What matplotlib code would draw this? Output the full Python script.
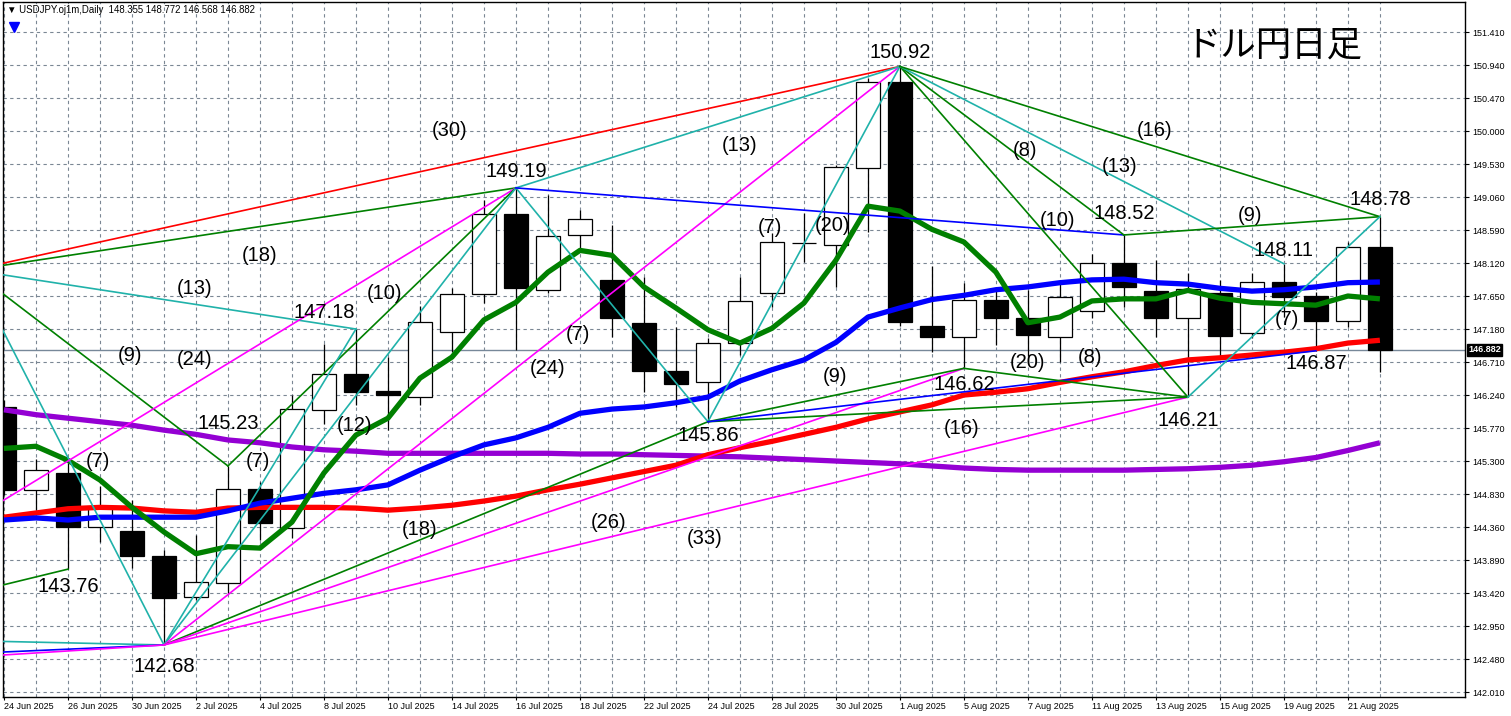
import matplotlib
matplotlib.use("Agg")
import matplotlib.pyplot as plt
import numpy as np

plt.rcParams['font.family'] = ['Liberation Sans', 'DejaVu Sans']

# daily bars, 24 Jun 2025 .. 22 Aug 2025
dates = ["24 Jun 2025", "25 Jun 2025", "26 Jun 2025", "27 Jun 2025", "30 Jun 2025",
         "1 Jul 2025", "2 Jul 2025", "3 Jul 2025", "4 Jul 2025", "7 Jul 2025",
         "8 Jul 2025", "9 Jul 2025", "10 Jul 2025", "11 Jul 2025", "14 Jul 2025",
         "15 Jul 2025", "16 Jul 2025", "17 Jul 2025", "18 Jul 2025", "21 Jul 2025",
         "22 Jul 2025", "23 Jul 2025", "24 Jul 2025", "25 Jul 2025", "28 Jul 2025",
         "29 Jul 2025", "30 Jul 2025", "31 Jul 2025", "1 Aug 2025", "4 Aug 2025",
         "5 Aug 2025", "6 Aug 2025", "7 Aug 2025", "8 Aug 2025", "11 Aug 2025",
         "12 Aug 2025", "13 Aug 2025", "14 Aug 2025", "15 Aug 2025", "18 Aug 2025",
         "19 Aug 2025", "20 Aug 2025", "21 Aug 2025", "22 Aug 2025"]

opens = [146.07, 144.89, 145.13, 144.36, 144.30, 143.95, 143.36, 143.56, 144.90, 144.35,
         146.03, 146.54, 146.30, 146.21, 147.14, 147.68, 148.82, 147.73, 148.52, 147.88,
         147.27, 146.58, 146.43, 146.98, 147.69, 148.41, 148.38, 149.47, 150.70, 147.22,
         147.07, 147.59, 147.34, 147.07, 147.44, 148.12, 147.72, 147.34, 147.70, 147.12,
         147.85, 147.65, 147.29, 148.355]
highs = [146.17, 145.33, 145.27, 144.94, 144.74, 144.03, 144.25, 145.23, 145.00, 146.24,
         146.97, 147.18, 146.78, 147.51, 147.76, 149.02, 149.19, 149.09, 148.87, 148.66,
         147.92, 147.21, 147.05, 147.92, 148.55, 148.83, 149.52, 150.76, 150.92, 148.08,
         147.83, 147.76, 147.74, 147.88, 148.25, 148.52, 148.16, 147.98, 147.88, 147.98,
         148.11, 147.71, 148.42, 148.772]
lows = [144.82, 144.60, 143.76, 144.15, 143.78, 142.68, 143.32, 143.40, 144.17, 144.20,
        145.83, 146.10, 145.74, 146.10, 146.85, 147.55, 146.88, 147.69, 148.33, 147.07,
        146.28, 146.07, 145.86, 146.81, 147.49, 148.13, 147.78, 148.56, 147.23, 146.85,
        146.62, 146.95, 146.80, 146.71, 147.34, 147.49, 147.07, 146.21, 146.78, 147.05,
        147.35, 146.87, 147.21, 146.568]
closes = [144.89, 145.17, 144.36, 144.64, 143.95, 143.35, 143.58, 144.90, 144.42, 146.04,
          146.54, 146.28, 146.24, 147.28, 147.68, 148.82, 147.76, 148.50, 148.75, 147.34,
          146.58, 146.40, 146.98, 147.58, 148.42, 148.40, 149.49, 150.70, 147.28, 147.07,
          147.59, 147.34, 147.10, 147.64, 148.12, 147.78, 147.34, 147.75, 147.08, 147.85,
          147.64, 147.29, 148.35, 146.882]

# moving averages
ma_green = [145.48, 145.51, 145.31, 145.03, 144.64, 144.29, 143.98, 144.08, 144.06, 144.43,
            145.13, 145.67, 145.91, 146.48, 146.78, 147.31, 147.56, 147.99, 148.30, 148.23,
            147.78, 147.48, 147.17, 146.98, 147.19, 147.55, 148.16, 148.93, 148.86, 148.60,
            148.42, 147.99, 147.27, 147.35, 147.58, 147.61, 147.61, 147.73, 147.62, 147.56,
            147.54, 147.52, 147.65, 147.61]
ma_blue = [144.46, 144.49, 144.46, 144.50, 144.50, 144.50, 144.50, 144.59, 144.70, 144.77,
           144.84, 144.89, 144.96, 145.17, 145.36, 145.53, 145.63, 145.78, 145.98, 146.04,
           146.07, 146.13, 146.21, 146.44, 146.60, 146.74, 146.99, 147.35, 147.48, 147.60,
           147.66, 147.74, 147.78, 147.84, 147.88, 147.89, 147.84, 147.82, 147.76, 147.72,
           147.74, 147.78, 147.84, 147.85]
ma_red = [144.50, 144.56, 144.62, 144.64, 144.63, 144.59, 144.57, 144.63, 144.64, 144.64,
          144.64, 144.63, 144.60, 144.63, 144.67, 144.73, 144.80, 144.89, 144.97, 145.06,
          145.15, 145.24, 145.39, 145.49, 145.58, 145.68, 145.78, 145.90, 146.00, 146.10,
          146.24, 146.28, 146.33, 146.42, 146.50, 146.57, 146.66, 146.74, 146.77, 146.81,
          146.85, 146.90, 146.98, 147.02]
ma_purple = [146.03, 145.96, 145.91, 145.86, 145.81, 145.74, 145.68, 145.60, 145.56, 145.50,
             145.46, 145.44, 145.41, 145.41, 145.41, 145.41, 145.41, 145.41, 145.40, 145.40,
             145.39, 145.38, 145.37, 145.36, 145.34, 145.32, 145.30, 145.28, 145.26, 145.23,
             145.20, 145.18, 145.17, 145.17, 145.17, 145.17, 145.18, 145.19, 145.21, 145.24,
             145.29, 145.35, 145.45, 145.56]

# swing points (bar index, price); the first ones lie left of the window
pivot_names = ['P0', 'Q', 'R1', 'R2', 'R3', 'A', 'B', 'C', 'D', 'E', 'F', 'G', 'H',
               'I', 'J', 'K', 'L', 'M']
pivot_bars = [-1, -7, -10, -25, -20, 5, 2, 7, 11, 16, 22, 28, 30, 35, 37, 40, 41, 43]
pivot_prices = [148.02, 142.80, 142.43, 142.08, 141.97, 142.68, 143.76, 145.23, 147.18,
                149.19, 145.86, 150.92, 146.62, 148.52, 146.21, 148.11, 146.87, 148.78]

trend_lines = [('P0', 'G', 'red'), ('P0', 'E', 'green'), ('P0', 'D', 'cyan'),
               ('P0', 'C', 'green'), ('P0', 'A', 'cyan'), ('Q', 'E', 'magenta'),
               ('Q', 'A', 'cyan'), ('R1', 'B', 'green'), ('R2', 'A', 'blue'),
               ('R3', 'A', 'magenta'), ('C', 'E', 'green'), ('A', 'D', 'cyan'),
               ('A', 'E', 'cyan'), ('A', 'G', 'magenta'), ('A', 'F', 'green'),
               ('A', 'H', 'magenta'), ('A', 'J', 'magenta'), ('E', 'G', 'cyan'),
               ('E', 'F', 'cyan'), ('E', 'I', 'blue'), ('F', 'G', 'cyan'),
               ('F', 'H', 'green'), ('F', 'J', 'green'), ('F', 'L', 'blue'),
               ('G', 'I', 'green'), ('G', 'J', 'green'), ('G', 'K', 'cyan'),
               ('G', 'M', 'green'), ('H', 'J', 'green'), ('I', 'M', 'green'),
               ('J', 'M', 'cyan')]

# bar counts written on the chart: text, bar, price
count_labels = [('(30)', 13.94, 150.01), ('(18)', 8.0, 148.23), ('(13)', 5.97, 147.76),
                ('(9)', 3.94, 146.81), ('(24)', 5.97, 146.74), ('(7)', 2.94, 145.29),
                ('(7)', 7.94, 145.29), ('(12)', 10.97, 145.81), ('(10)', 11.9, 147.69),
                ('(18)', 13.0, 144.32), ('(26)', 18.88, 144.42), ('(33)', 21.9, 144.20),
                ('(24)', 17.0, 146.62), ('(7)', 17.94, 147.10), ('(13)', 23.0, 149.80),
                ('(7)', 23.94, 148.63), ('(20)', 25.9, 148.66), ('(9)', 25.97, 146.51),
                ('(16)', 29.94, 145.77), ('(8)', 31.9, 149.73), ('(10)', 32.94, 148.73),
                ('(20)', 32.0, 146.71), ('(8)', 33.94, 146.77), ('(16)', 35.97, 150.01),
                ('(13)', 34.88, 149.50), ('(9)', 38.94, 148.80), ('(7)', 40.1, 147.31)]

# price labels at the swing points, with pixel offsets
price_label_pivots = ['G', 'E', 'D', 'C', 'B', 'A', 'F', 'H', 'I', 'J', 'K', 'L', 'M']
price_label_offsets = [(0, 14), (0, 16), (-32, 17), (0, 42), (0, -17), (0, -22), (0, -14),
                       (0, -16), (0, 21), (0, -23), (0, 13), (0, -13), (0, 17)]

last_price = 146.882
header = "\u25bc USDJPY.oj1m,Daily  148.355 148.772 146.568 146.882"
title = "ドル円日足"

colors = {'red': '#ff0000', 'green': '#008000', 'cyan': '#20b2aa',
          'magenta': '#ff00ff', 'blue': '#0000ff'}

fig = plt.figure(figsize=(15.11, 7.16), dpi=100)
ax = fig.add_axes([3 / 1511, 19 / 716, 1462 / 1511, 695 / 716])
ax.set_xlim(-0.03, 45.66)
ax.set_ylim(141.939, 151.838)

x = np.arange(len(dates))

# grid
yt = [142.01 + 0.47 * k for k in range(21)]
ax.set_yticks(yt)
ax.set_yticklabels([f"{v:.3f}" for v in yt])
ax.set_xticks(x[::2])
ax.set_xticklabels(dates[::2], ha='left')
ax.set_xticks(x[1::2], minor=True)
ax.grid(True, which='both', color='#7b8794', linestyle=(0, (3, 3)), linewidth=0.8, zorder=0)
ax.set_axisbelow(True)
ax.yaxis.tick_right()
ax.tick_params(axis='y', labelsize=6.5, length=3, pad=2, direction='out')
ax.tick_params(axis='x', which='major', labelsize=6.5, length=2.5, pad=1)
ax.tick_params(axis='x', which='minor', length=0)
for s in ax.spines.values():
    s.set_color('black')
    s.set_linewidth(1.0)

# current price line
ax.axhline(last_price, color='#778899', lw=1.0, zorder=1)
ax.annotate(f"{last_price:.3f}", xy=(1, last_price), xycoords=('axes fraction', 'data'),
            xytext=(3, 0), textcoords='offset pixels', ha='left', va='center',
            fontsize=6.5, color='white', fontweight='bold',
            bbox=dict(boxstyle='square,pad=0.15', fc='black', ec='black'),
            annotation_clip=False)

# candles
o = np.array(opens)
c = np.array(closes)
ax.vlines(x, lows, highs, color='black', lw=0.9, zorder=2)
up = c >= o
ax.bar(x[up], np.maximum(np.abs(c - o)[up], 0.005), bottom=np.minimum(o, c)[up],
       width=0.74, color='white', edgecolor='black', linewidth=0.9, zorder=3)
ax.bar(x[~up], np.maximum(np.abs(c - o)[~up], 0.005), bottom=np.minimum(o, c)[~up],
       width=0.74, color='black', edgecolor='black', linewidth=0.9, zorder=3)

# moving averages
ax.plot(x, ma_purple, color='#9400d3', lw=3.8, zorder=4, solid_capstyle='butt')
ax.plot(x, ma_red, color='#ff0000', lw=3.8, zorder=4, solid_capstyle='butt')
ax.plot(x, ma_blue, color='#0000ff', lw=3.8, zorder=4, solid_capstyle='butt')
ax.plot(x, ma_green, color='#008000', lw=3.8, zorder=4, solid_capstyle='butt')

# trend lines
pv = {n: (b, p) for n, b, p in zip(pivot_names, pivot_bars, pivot_prices)}
for a, b, col in trend_lines:
    (x0, y0), (x1, y1) = pv[a], pv[b]
    ax.plot([x0, x1], [y0, y1], color=colors[col], lw=1.2, zorder=5)

for txt, bx, by in count_labels:
    ax.text(bx, by, txt, fontsize=14.5, ha='center', va='center', color='black', zorder=6)

for name, (dx, dy) in zip(price_label_pivots, price_label_offsets):
    bx, by = pv[name]
    ax.annotate(f"{by:.2f}", xy=(bx, by), xytext=(dx, dy), textcoords='offset pixels',
                fontsize=14.5, ha='center', va='center', color='black', zorder=6)

ax.text((1186 - 3) / 1462, (697 - 46) / 695, title,
        transform=ax.transAxes, fontsize=25.5, ha='left', va='center',
        family=['Noto Sans CJK JP', 'DejaVu Sans'], zorder=6)

fig.text(7 / 1511, 1 - 10 / 716, header, fontsize=6.9, ha='left', va='center')
ax.plot([(14 - 3) / 1462], [(697 - 27) / 695], marker='v', color='#0000ff', markersize=7,
        transform=ax.transAxes, zorder=6)

fig.savefig('out.png', dpi=100)
